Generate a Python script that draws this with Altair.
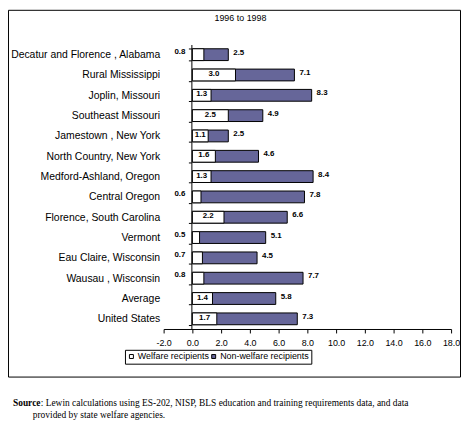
import altair as alt
import pandas as pd

sites = ["Decatur and Florence , Alabama", "Rural Mississippi", "Joplin, Missouri",
         "Southeast Missouri", "Jamestown , New York", "North Country, New York",
         "Medford-Ashland, Oregon", "Central Oregon", "Florence, South Carolina",
         "Vermont", "Eau Claire, Wisconsin", "Wausau , Wisconsin", "Average",
         "United States"]
welfare = [0.8, 3.0, 1.3, 2.5, 1.1, 1.6, 1.3, 0.6, 2.2, 0.5, 0.7, 0.8, 1.4, 1.7]
nonwelfare = [2.5, 7.1, 8.3, 4.9, 2.5, 4.6, 8.4, 7.8, 6.6, 5.1, 4.5, 7.7, 5.8, 7.3]
series = ["Welfare recipients", "Non-welfare recipients"]
x_ticks = [-2, 0, 2, 4, 6, 8, 10, 12, 14, 16, 18]
title_text = "1996 to 1998"
source_bold = "Source"
source_line1 = ": Lewin calculations using ES-202, NISP, BLS education and training requirements data, and data"
source_line2 = "provided by state welfare agencies."

df = pd.DataFrame({"site": sites, "welfare": welfare, "nonwelfare": nonwelfare})
df["s_w"] = series[0]
df["s_n"] = series[1]

SANS = "Liberation Sans"
SERIF = "Liberation Serif"
PURPLE = "#666699"

color_scale = alt.Scale(domain=series, range=["white", PURPLE])
y_scale = alt.Scale(paddingInner=0.42, paddingOuter=0.21)
y_axis = alt.Axis(title=None, labelFontSize=10.5, labelFont=SANS,
                  labelColor="black", labelPadding=29, tickSize=3,
                  tickColor="black", domainColor="black",
                  tickBand="extent", offset=-28, labelLimit=300)
x_scale = alt.Scale(domain=[-2, 18], nice=False, zero=False)
x_axis = alt.Axis(title=None, values=x_ticks, labelFontSize=9, labelFont=SANS,
                  labelColor="black", tickSize=4, tickColor="black",
                  domainColor="black", grid=False, labelPadding=6,
                  labelOverlap=False, labelBound=False, labelFlush=False,
                  labelExpr="datum.value < 0 ? '-' + format(-datum.value, '.1f') : format(datum.value, '.1f')")


def Y():
    return alt.Y("site:N", sort=sites, scale=y_scale, axis=y_axis)


def X(field):
    return alt.X(field, scale=x_scale, axis=x_axis)


base = alt.Chart(df)

bar_n = base.mark_bar(stroke="black", strokeWidth=1).encode(
    y=Y(),
    x=X("nonwelfare:Q"),
    x2=alt.datum(0),
    color=alt.Color("s_n:N", scale=color_scale,
                    legend=alt.Legend(title=None, orient="none", legendX=-39, legendY=308,
                                      direction="horizontal", strokeColor="black",
                                      padding=2, symbolType="square", symbolSize=16,
                                      symbolStrokeColor="black", symbolStrokeWidth=1,
                                      labelFontSize=9, labelFont=SANS, labelColor="black",
                                      columnPadding=0, labelOffset=2, fillColor="white")),
)
bar_w = base.mark_bar(stroke="black", strokeWidth=1).encode(
    y=Y(),
    x=X("welfare:Q"),
    x2=alt.datum(0),
    color=alt.Color("s_w:N", scale=color_scale),
)

lab_style = dict(fontSize=8, font=SANS, fontWeight="bold", color="black")
lab_w_in = base.transform_filter("datum.welfare >= 1").transform_calculate(
    mid="datum.welfare / 2").mark_text(align="center", baseline="middle", dy=-1, **lab_style).encode(
    y=Y(), x=X("mid:Q"), text=alt.Text("welfare:Q", format=".1f"))
lab_w_out = base.transform_filter("datum.welfare < 1").transform_calculate(
    zero="0").mark_text(align="right", baseline="middle", dx=-7, dy=-3, **lab_style).encode(
    y=Y(), x=X("zero:Q"), text=alt.Text("welfare:Q", format=".1f"))
lab_n = base.mark_text(align="left", baseline="middle", dx=5, dy=-2, **lab_style).encode(
    y=Y(), x=X("nonwelfare:Q"), text=alt.Text("nonwelfare:Q", format=".1f"))

frame = alt.Chart(pd.DataFrame({"k": [0]})).mark_rect(
    fillOpacity=0, stroke="black", strokeWidth=1).encode(
    x=alt.value(-156.5), x2=alt.value(299.5), y=alt.value(-34.5), y2=alt.value(335.5))

title = alt.Chart(pd.DataFrame({"t": [title_text]})).mark_text(
    align="center", baseline="middle", fontSize=9, font=SANS, color="black").encode(
    x=alt.value(77.5), y=alt.value(-27), text="t:N")

src_b = alt.Chart(pd.DataFrame({"t": [source_bold]})).mark_text(
    align="left", baseline="middle", fontSize=9.5, font=SERIF, fontWeight="bold", color="black").encode(
    x=alt.value(-152), y=alt.value(362), text="t:N")
src_1 = alt.Chart(pd.DataFrame({"t": [source_line1]})).mark_text(
    align="left", baseline="middle", fontSize=9.5, font=SERIF, color="black").encode(
    x=alt.value(-124), y=alt.value(362), text="t:N")
src_2 = alt.Chart(pd.DataFrame({"t": [source_line2]})).mark_text(
    align="left", baseline="middle", fontSize=9.5, font=SERIF, color="black").encode(
    x=alt.value(-132), y=alt.value(374), text="t:N")

chart = alt.layer(frame, bar_n, bar_w, lab_w_in, lab_w_out, lab_n, title, src_b, src_1, src_2).properties(
    width=290, height=287,
    background="white",
    autosize=alt.AutoSizeParams(type="none"),
    padding={"left": 157, "top": 35, "right": 10, "bottom": 93},
).configure_view(strokeWidth=0).configure_axis(labelOverlap=False)

chart.save("out.html", embed_options={"renderer": "svg", "actions": False})
